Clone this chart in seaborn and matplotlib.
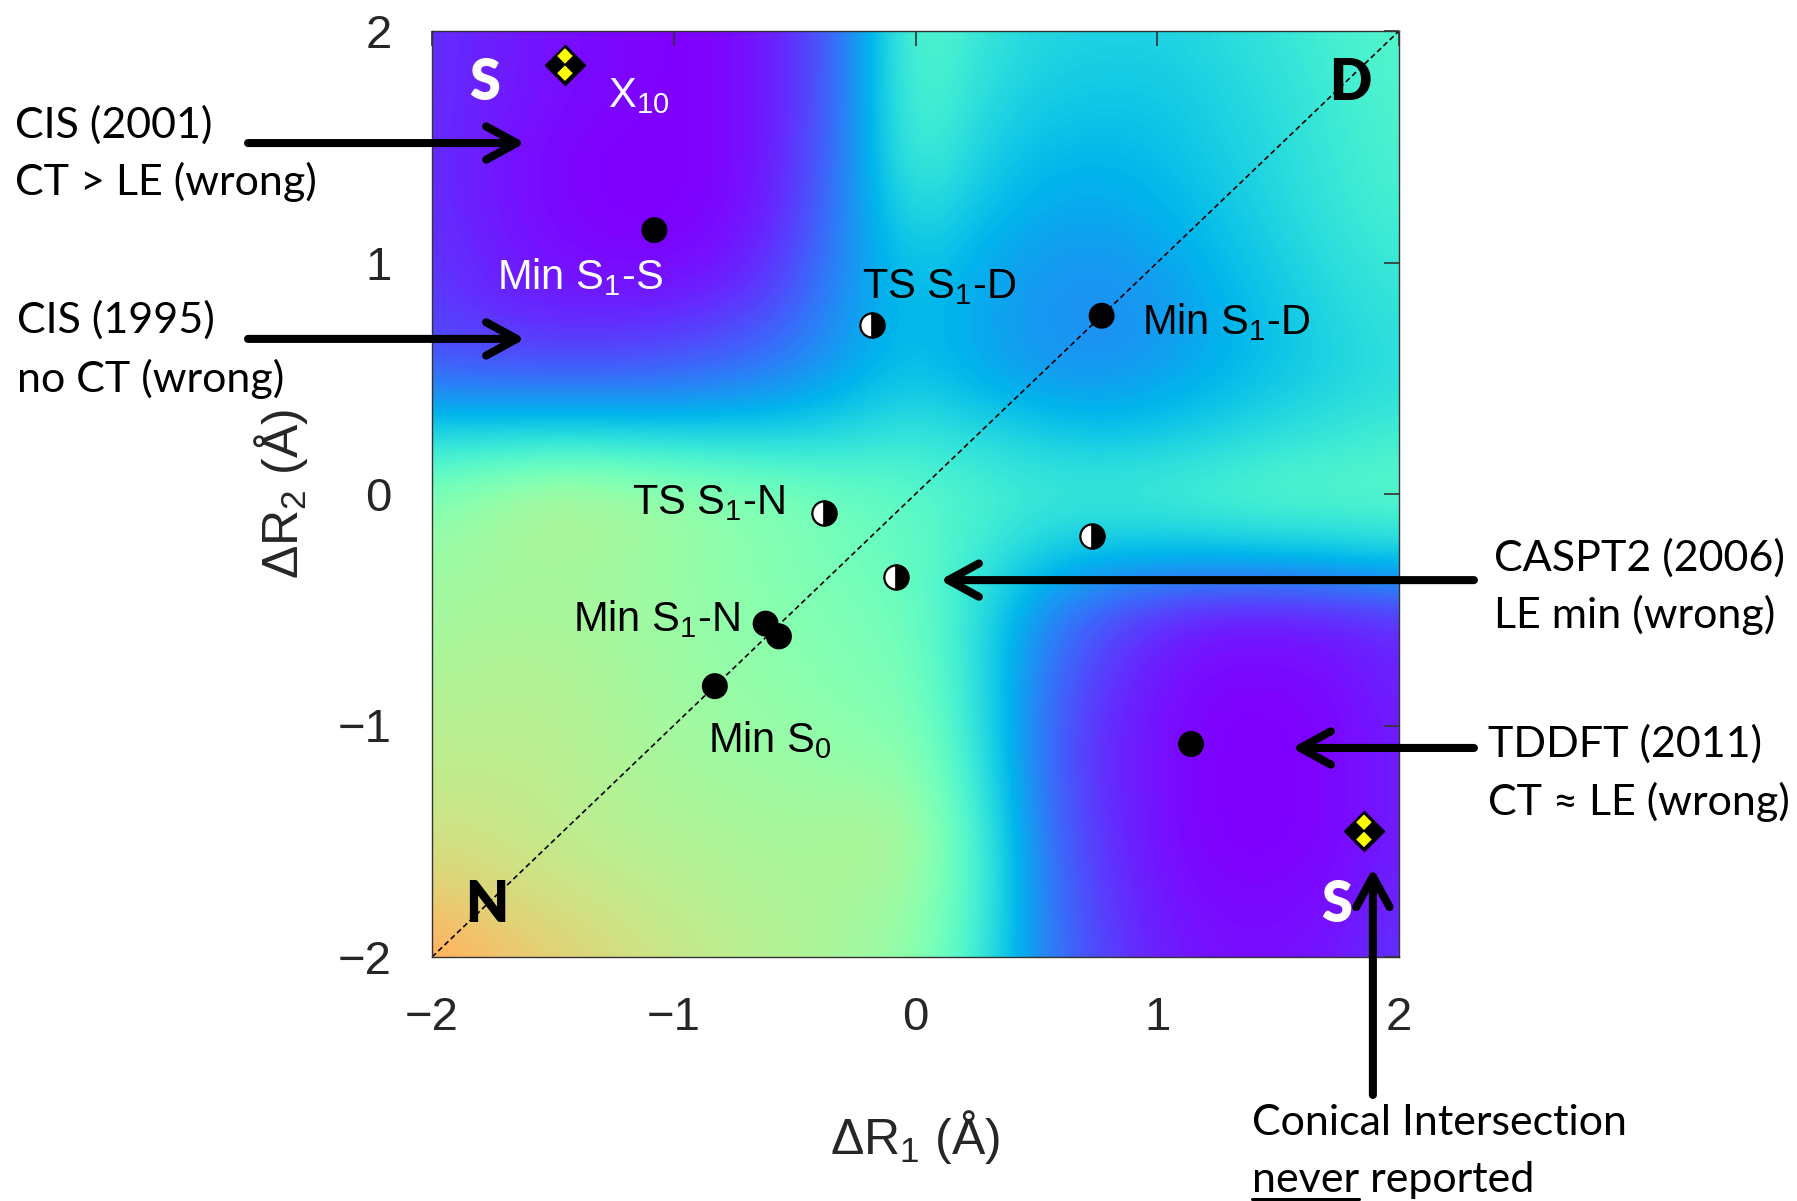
import numpy as np
import pandas as pd
import matplotlib
matplotlib.use("Agg")
import matplotlib.pyplot as plt
import seaborn as sns
from matplotlib.path import Path
from matplotlib.lines import Line2D

# ---------------- data ----------------
grid_x = [-2.0, -1.75, -1.5, -1.25, -1.0, -0.75, -0.5, -0.25, 0.0,
          0.25, 0.5, 0.75, 1.0, 1.25, 1.5, 1.75, 2.0]
grid_y = [2.0, 1.75, 1.5, 1.25, 1.0, 0.75, 0.5, 0.25, 0.0,
          -0.25, -0.5, -0.75, -1.0, -1.25, -1.5, -1.75, -2.0]
# relative S1 energy (colour value, 0 = purple ... 0.77 = orange), rows top -> bottom
energy_rows = [
    [0.06, 0.04, 0.02, 0.01, 0.00, 0.01, 0.06, 0.18, 0.44, 0.36, 0.32, 0.31, 0.31, 0.33, 0.36, 0.39, 0.42],
    [0.06, 0.04, 0.02, 0.01, 0.00, 0.01, 0.06, 0.18, 0.43, 0.34, 0.30, 0.29, 0.29, 0.31, 0.34, 0.38, 0.41],
    [0.06, 0.03, 0.01, 0.00, 0.00, 0.01, 0.06, 0.19, 0.41, 0.31, 0.27, 0.26, 0.27, 0.30, 0.33, 0.37, 0.40],
    [0.06, 0.03, 0.01, 0.00, 0.00, 0.01, 0.07, 0.20, 0.35, 0.28, 0.24, 0.23, 0.25, 0.28, 0.32, 0.36, 0.39],
    [0.07, 0.04, 0.02, 0.01, 0.01, 0.03, 0.09, 0.21, 0.29, 0.24, 0.21, 0.20, 0.22, 0.26, 0.30, 0.34, 0.37],
    [0.08, 0.06, 0.05, 0.05, 0.06, 0.08, 0.13, 0.22, 0.27, 0.23, 0.20, 0.19, 0.20, 0.24, 0.28, 0.32, 0.35],
    [0.14, 0.13, 0.13, 0.13, 0.14, 0.16, 0.19, 0.24, 0.28, 0.24, 0.21, 0.20, 0.22, 0.25, 0.28, 0.31, 0.34],
    [0.32, 0.32, 0.32, 0.32, 0.31, 0.31, 0.31, 0.33, 0.36, 0.33, 0.30, 0.28, 0.29, 0.31, 0.34, 0.36, 0.38],
    [0.50, 0.55, 0.60, 0.58, 0.55, 0.52, 0.49, 0.46, 0.43, 0.40, 0.38, 0.38, 0.39, 0.41, 0.43, 0.43, 0.44],
    [0.55, 0.57, 0.58, 0.57, 0.55, 0.52, 0.50, 0.47, 0.44, 0.38, 0.30, 0.27, 0.27, 0.27, 0.28, 0.29, 0.31],
    [0.57, 0.58, 0.58, 0.57, 0.55, 0.53, 0.51, 0.49, 0.46, 0.34, 0.20, 0.12, 0.07, 0.04, 0.04, 0.05, 0.07],
    [0.59, 0.60, 0.60, 0.58, 0.56, 0.54, 0.52, 0.50, 0.48, 0.34, 0.17, 0.08, 0.03, 0.01, 0.01, 0.02, 0.05],
    [0.61, 0.61, 0.61, 0.59, 0.57, 0.55, 0.54, 0.52, 0.50, 0.35, 0.16, 0.06, 0.02, 0.00, 0.00, 0.01, 0.04],
    [0.63, 0.63, 0.62, 0.60, 0.58, 0.57, 0.56, 0.55, 0.54, 0.37, 0.16, 0.06, 0.02, 0.00, 0.00, 0.01, 0.04],
    [0.66, 0.65, 0.63, 0.61, 0.60, 0.59, 0.58, 0.60, 0.58, 0.40, 0.17, 0.07, 0.02, 0.00, 0.00, 0.01, 0.04],
    [0.71, 0.68, 0.66, 0.64, 0.62, 0.60, 0.59, 0.58, 0.55, 0.40, 0.18, 0.08, 0.03, 0.01, 0.01, 0.02, 0.05],
    [0.77, 0.73, 0.70, 0.67, 0.64, 0.62, 0.60, 0.57, 0.53, 0.38, 0.18, 0.09, 0.04, 0.02, 0.02, 0.03, 0.07],
]

# minima (filled black circles)
min_x = [-1.08, 1.14, 0.77, -0.62, -0.565, -0.83]
min_y = [1.14, -1.08, 0.77, -0.56, -0.615, -0.83]
# transition states (half-filled circles)
ts_x = [-0.18, 0.73, -0.38, -0.08]
ts_y = [0.73, -0.18, -0.08, -0.36]
# conical intersections X10 (diamonds)
ci_x = [-1.45, 1.855]
ci_y = [1.855, -1.455]
# diagonal
diag = [-2.0, 2.0]

ticks = [-2, -1, 0, 1, 2]

# labels inside the plot: (text, x, y, colour)
point_labels = [
    ("Min $\\mathrm{S}_1$-S", -1.731, 0.885, "white"),
    ("$\\mathrm{X}_{10}$", -1.272, 1.672, "white"),
    ("TS $\\mathrm{S}_1$-D", -0.221, 0.847, "black"),
    ("Min $\\mathrm{S}_1$-D", 0.937, 0.691, "black"),
    ("TS $\\mathrm{S}_1$-N", -1.173, -0.086, "black"),
    ("Min $\\mathrm{S}_1$-N", -1.417, -0.592, "black"),
    ("Min $\\mathrm{S}_0$", -0.858, -1.114, "black"),
]
region_labels = [
    ("S", -1.845, 1.702, "white"),
    ("D", 1.709, 1.702, "black"),
    ("N", -1.865, -1.849, "black"),
    ("S", 1.68, -1.849, "white"),
]
side_texts = [
    ("CIS (2001)", -3.725, 1.538),
    ("CT > LE (wrong)", -3.725, 1.292),
    ("CIS (1995)", -3.717, 0.695),
    ("no CT (wrong)", -3.717, 0.441),
    ("CASPT2 (2006)", 2.393, -0.333),
    ("LE min (wrong)", 2.393, -0.579),
    ("TDDFT (2011)", 2.368, -1.136),
    ("CT \u2248 LE (wrong)", 2.368, -1.387),
    ("Conical Intersection", 1.392, -2.769),
]
# arrows: (x_from, y_from, x_to, y_to)
arrows = [
    (-2.761, 1.516, -1.615, 1.516),
    (-2.761, 0.670, -1.615, 0.670),
    (2.310, -0.372, 0.101, -0.372),
    (2.310, -1.097, 1.557, -1.097),
    (1.892, -2.596, 1.892, -1.616),
]

# ---------------- style ----------------
sns.set_style("white")
plt.rcParams["font.family"] = ["Liberation Sans", "DejaVu Sans"]
plt.rcParams["mathtext.fontset"] = "custom"
plt.rcParams["mathtext.rm"] = "Liberation Sans"
plt.rcParams["mathtext.it"] = "Liberation Sans:italic"
plt.rcParams["mathtext.bf"] = "Liberation Sans:bold"

W, H = 1797, 1201
fig = plt.figure(figsize=(W / 100, H / 100), dpi=100)
fig.patch.set_facecolor("white")
ax = fig.add_axes([432 / W, (H - 957) / H, 967 / W, 926 / H])

# background energy map
Z = np.array(energy_rows)
step = 0.25
ax.imshow(Z, cmap="rainbow", vmin=0, vmax=1, interpolation="bicubic",
          extent=(min(grid_x) - step / 2, max(grid_x) + step / 2,
                  min(grid_y) - step / 2, max(grid_y) + step / 2),
          origin="upper", aspect="auto", zorder=0)

# diagonal dashed line
ax.plot(diag, diag, color="black", lw=1.2, linestyle=(0, (3.2, 2.0)), zorder=2)

# minima
df_min = pd.DataFrame({"x": min_x, "y": min_y})
sns.scatterplot(data=df_min, x="x", y="y", color="black", s=350,
                edgecolor="none", ax=ax, zorder=4, legend=False)

# transition states (half filled)
ax.plot(ts_x, ts_y, linestyle="none", marker="o", ms=17.5, fillstyle="left",
        markerfacecolor="white", markerfacecoloralt="black",
        markeredgecolor="black", markeredgewidth=1.6, zorder=4)

# conical intersections: black diamond with two yellow sub-diamonds
big_diamond = Path([(0, 1), (1, 0), (0, -1), (-1, 0), (0, 1)],
                   [Path.MOVETO, Path.LINETO, Path.LINETO, Path.LINETO, Path.CLOSEPOLY])
sub = 0.38
c = 0.42
yel = Path([(0, c + sub), (sub, c), (0, c - sub), (-sub, c), (0, c + sub),
            (0, -c + sub), (sub, -c), (0, -c - sub), (-sub, -c), (0, -c + sub)],
           [Path.MOVETO, Path.LINETO, Path.LINETO, Path.LINETO, Path.CLOSEPOLY] * 2)
df_ci = pd.DataFrame({"x": ci_x, "y": ci_y})
ms_big = 29.5
sns.scatterplot(data=df_ci, x="x", y="y", marker=big_diamond, color="black",
                s=ms_big ** 2, edgecolor="black", linewidth=0.5, ax=ax, zorder=5, legend=False)
sns.scatterplot(data=df_ci, x="x", y="y", marker=yel, color="#ffff00",
                s=(ms_big * (c + sub)) ** 2, edgecolor="none", ax=ax, zorder=6, legend=False)

# axes cosmetics
ax.set_xlim(-2, 2)
ax.set_ylim(-2, 2)
ax.set_xticks(ticks)
ax.set_yticks(ticks)
ax.set_xticklabels(["\u2212%d" % abs(t) if t < 0 else "%d" % t for t in ticks])
ax.set_yticklabels(["\u2212%d" % abs(t) if t < 0 else "%d" % t for t in ticks])
ax.tick_params(axis="both", direction="in", length=11, width=1.2, color="#333333",
               labelsize=34, top=True, right=True)
ax.tick_params(axis="x", pad=28)
ax.tick_params(axis="y", pad=29)
for sp in ax.spines.values():
    sp.set_visible(True)
    sp.set_color("#333333")
    sp.set_linewidth(1.0)

ax.set_xlabel("\u0394R$_1$ (\u00c5)", fontsize=36, va="center")
ax.set_ylabel("\u0394R$_2$ (\u00c5)", fontsize=36, va="center")
ax.xaxis.set_label_coords(0.4995, -0.194)
ax.yaxis.set_label_coords(-0.156, 0.5)

# labels
for txt, x, y, col in point_labels:
    ax.text(x, y, txt, color=col, fontsize=30, ha="left", va="baseline", zorder=7)
for txt, x, y, col in region_labels:
    ax.text(x, y, txt, color=col, fontsize=40, fontweight="heavy", family="Lato",
            ha="left", va="baseline", zorder=7)

side_font = dict(fontsize=31, family="Lato", color="black", ha="left", va="baseline")
for txt, x, y in side_texts:
    ax.text(x, y, txt, clip_on=False, **side_font)

# "never reported" with underlined "never"
nx, ny = 1.392, -3.015
ax.text(nx, ny, "never reported", clip_on=False, **side_font)

for x0, y0, x1, y1 in arrows:
    ax.annotate("", xy=(x1, y1), xytext=(x0, y0), xycoords="data", textcoords="data",
                annotation_clip=False,
                arrowprops=dict(arrowstyle="->,head_length=1.1,head_width=0.6",
                                mutation_scale=20, lw=5.8, color="black",
                                shrinkA=0, shrinkB=0, capstyle="round",
                                joinstyle="round"), zorder=8)

# underline
fig.canvas.draw()
r = fig.canvas.get_renderer()
tmp = ax.text(nx, ny, "never", clip_on=False, **side_font)
bb = tmp.get_window_extent(renderer=r)
tmp.remove()
base_disp = ax.transData.transform((nx, ny))
uy = base_disp[1] - 7
fig.add_artist(Line2D([bb.x0 / W, bb.x1 / W], [uy / H, uy / H], color="black",
                      lw=2.2, transform=fig.transFigure))

fig.savefig("out.png", dpi=100, facecolor="white")
